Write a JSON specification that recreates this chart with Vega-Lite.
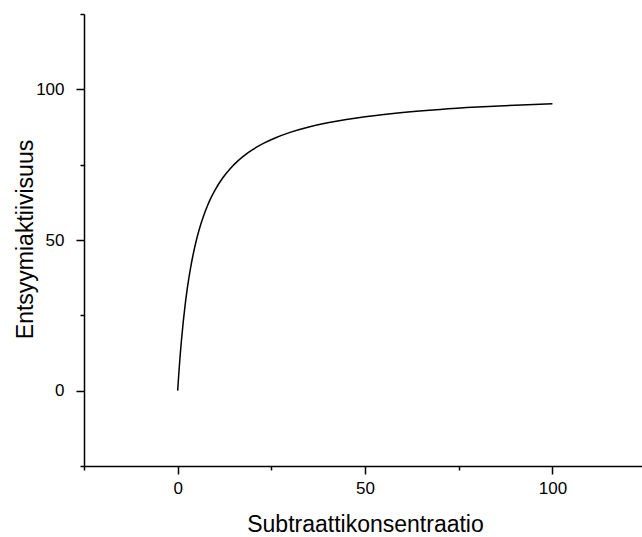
{
  "$schema": "https://vega.github.io/schema/vega-lite/v6.json",
  "width": 558,
  "height": 452,
  "autosize": "none",
  "padding": {"left": 84, "top": 14, "right": 0, "bottom": 71},
  "background": "white",
  "config": {
    "view": {"stroke": null},
    "axis": {
      "grid": false,
      "domainColor": "black",
      "domainWidth": 1.5,
      "tickColor": "black",
      "tickWidth": 1.5,
      "labelColor": "black",
      "titleColor": "black",
      "labelFont": "Liberation Sans",
      "titleFont": "Liberation Sans",
      "labelFontSize": 17,
      "titleFontSize": 23,
      "titleFontWeight": "normal"
    }
  },
  "data": {
    "values": [
      {"S": 0, "v": 0},
      {"S": 0.05, "v": 0.990},
      {"S": 0.1, "v": 1.961},
      {"S": 0.25, "v": 4.762},
      {"S": 0.5, "v": 9.091},
      {"S": 0.75, "v": 13.043},
      {"S": 1, "v": 16.667},
      {"S": 1.5, "v": 23.077},
      {"S": 2, "v": 28.571},
      {"S": 2.5, "v": 33.333},
      {"S": 3, "v": 37.5},
      {"S": 3.5, "v": 41.176},
      {"S": 4, "v": 44.444},
      {"S": 5, "v": 50},
      {"S": 6, "v": 54.545},
      {"S": 7, "v": 58.333},
      {"S": 8, "v": 61.538},
      {"S": 9, "v": 64.286},
      {"S": 10, "v": 66.667},
      {"S": 12, "v": 70.588},
      {"S": 14, "v": 73.684},
      {"S": 16, "v": 76.190},
      {"S": 18, "v": 78.261},
      {"S": 20, "v": 80},
      {"S": 23, "v": 82.143},
      {"S": 26, "v": 83.871},
      {"S": 30, "v": 85.714},
      {"S": 35, "v": 87.5},
      {"S": 40, "v": 88.889},
      {"S": 45, "v": 90},
      {"S": 50, "v": 90.909},
      {"S": 55, "v": 91.667},
      {"S": 60, "v": 92.308},
      {"S": 70, "v": 93.333},
      {"S": 80, "v": 94.118},
      {"S": 90, "v": 94.737},
      {"S": 100, "v": 95.238}
    ]
  },
  "mark": {"type": "line", "color": "black", "strokeWidth": 1.5, "interpolate": "monotone", "clip": false},
  "encoding": {
    "x": {
      "field": "S",
      "type": "quantitative",
      "scale": {"domain": [-25, 123.9], "nice": false, "zero": false},
      "axis": {
        "values": [-25, 0, 25, 50, 75, 100],
        "labelExpr": "datum.value % 50 === 0 ? datum.label : ''",
        "tickSize": {"condition": {"test": "datum.value % 50 === 0", "value": 8}, "value": 4},
        "labelPadding": 6,
        "labelFlush": false,
        "title": "Subtraattikonsentraatio",
        "titleBaseline": "alphabetic",
        "titleY": 65,
        "titleX": 281,
        "titleAlign": "center"
      }
    },
    "y": {
      "field": "v",
      "type": "quantitative",
      "scale": {"domain": [-25, 125], "nice": false, "zero": false},
      "axis": {
        "values": [-25, 0, 25, 50, 75, 100, 125],
        "labelExpr": "datum.value % 50 === 0 ? datum.label : ''",
        "tickSize": {"condition": {"test": "datum.value % 50 === 0", "value": 8}, "value": 4},
        "labelPadding": 12,
        "labelFlush": false,
        "title": "Entsyymiaktiivisuus",
        "titleBaseline": "alphabetic",
        "titleAngle": -90,
        "titleX": -52,
        "titleY": 225,
        "titleAlign": "center"
      }
    }
  }
}
